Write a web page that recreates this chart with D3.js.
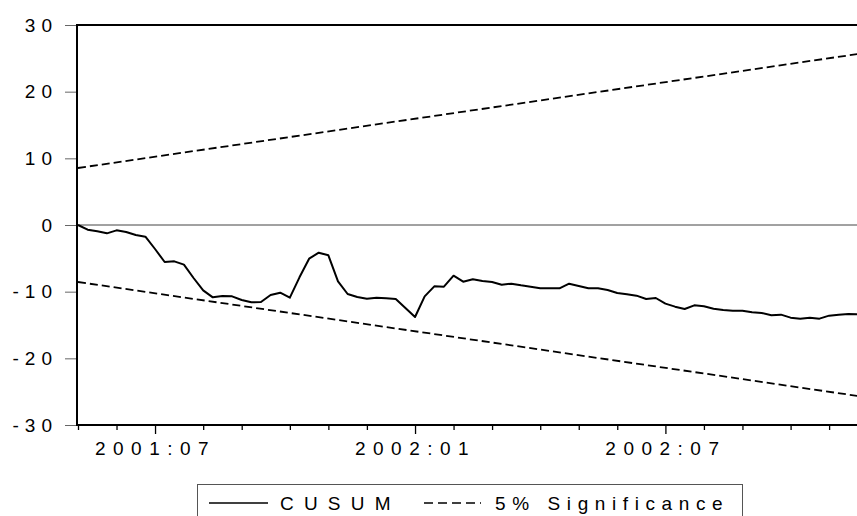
<!DOCTYPE html>
<html>
<head>
<meta charset="utf-8">
<script src="https://cdn.jsdelivr.net/npm/d3@7"></script>
<style>
	body { margin: 0; background: #fff; }
	svg { display: block; }
	text { font-family: "Liberation Sans", Arial, sans-serif; fill: #000; }
</style>
</head>
<body>
<svg id="chart" width="857" height="516"></svg>
<script>
	// CUSUM values, one per week
	var cusum = [
		0, -0.7, -0.95, -1.25, -0.8, -1.05, -1.5, -1.75, -3.6, -5.55,
		-5.45, -5.95, -7.95, -9.8, -10.85, -10.65, -10.7, -11.25, -11.6, -11.55,
		-10.5, -10.15, -10.9, -7.85, -5.05, -4.15, -4.55, -8.45, -10.35, -10.8,
		-11.05, -10.9, -11.0, -11.1, -12.45, -13.8, -10.7, -9.2, -9.25, -7.6,
		-8.5, -8.15, -8.4, -8.55, -8.95, -8.8, -9.05, -9.25, -9.5, -9.5,
		-9.5, -8.8, -9.15, -9.5, -9.5, -9.75, -10.2, -10.4, -10.6, -11.1,
		-10.95, -11.8, -12.25, -12.6, -12.05, -12.2, -12.55, -12.75, -12.85, -12.85,
		-13.1, -13.2, -13.55, -13.45, -13.9, -14.05, -13.9, -14.05, -13.6, -13.45,
		-13.35, -13.4
	];

	// 5% significance bounds, at the first and last observation
	var sigIndex = [0, 81];
	var sigUpper = [8.55, 25.65];
	var sigLower = [-8.55, -25.65];

	// month ticks: week index where each month starts
	var tickIndex  = [0, 4, 8, 13, 17, 22, 26, 30, 35, 39, 43, 48, 52, 56, 61, 65, 69, 74, 78];
	var tickMonths = ["2001:05", "2001:06", "2001:07", "2001:08", "2001:09", "2001:10", "2001:11", "2001:12",
	                  "2002:01", "2002:02", "2002:03", "2002:04", "2002:05", "2002:06", "2002:07", "2002:08",
	                  "2002:09", "2002:10", "2002:11"];

	var yTicks = [30, 20, 10, 0, -10, -20, -30];

	var legendLabels = ["CUSUM", "5% Significance"];

	var plotL = 77, plotT = 25, plotR = 858, plotB = 425;

	var svg = d3.select("#chart");

	var x = d3.scaleLinear().domain([0, cusum.length - 1]).range([plotL + 1, plotR]);
	var y = d3.scaleLinear().domain([-30, 30]).range([plotB, plotT]);

	//Zero line
	svg.append("line")
		.attr("x1", plotL).attr("x2", plotR)
		.attr("y1", y(0)).attr("y2", y(0))
		.attr("stroke", "#444").attr("stroke-width", 1);

	//Y axis ticks and labels
	var yAxis = d3.axisLeft(y)
		.tickValues(yTicks)
		.tickSize(11)
		.tickPadding(7)
		.tickFormat(d3.format("d"));

	var gy = svg.append("g")
		.attr("transform", "translate(" + (plotL - 1) + ",0)")
		.call(yAxis);
	gy.select(".domain").remove();
	gy.selectAll(".tick line").attr("stroke", "#666").attr("stroke-width", 1);
	gy.selectAll(".tick text")
		.attr("font-size", 19)
		.attr("letter-spacing", "6px")
		.attr("dy", "0.33em")
		.style("font-family", "'Liberation Sans', Arial, sans-serif")
		.text(function(d){ return String(d); }); // plain hyphen minus, as in the original

	function isLabelled(i){
		var m = tickMonths[i].split(":")[1];
		return m == "01" || m == "07";
	}

	//X axis ticks: labelled months are longer
	var xAxis = d3.axisBottom(x)
		.tickValues(tickIndex)
		.tickSize(0)
		.tickFormat("");

	var gx = svg.append("g")
		.attr("transform", "translate(0," + plotB + ")")
		.call(xAxis);
	gx.select(".domain").remove();
	gx.selectAll(".tick").append("line")
		.attr("y1", 0)
		.attr("y2", function(d, i){ return isLabelled(i) ? 9 : 5; })
		.attr("stroke", "#000")
		.attr("stroke-width", 1.3);
	gx.selectAll(".tick").filter(function(d, i){ return isLabelled(i); })
		.append("text")
		.attr("y", 30)
		.attr("text-anchor", "middle")
		.attr("font-size", 19)
		.attr("letter-spacing", "7.5px")
		.style("font-family", "'Liberation Sans', Arial, sans-serif")
		.text(function(d){ return tickMonths[tickIndex.indexOf(d)]; });

	//Plot frame: top, left and bottom
	svg.append("path")
		.attr("d", "M" + plotR + "," + plotT + "H" + plotL + "V" + plotB + "H" + plotR)
		.attr("fill", "none")
		.attr("stroke", "#000")
		.attr("stroke-width", 2);

	//Significance bounds
	var sigLine = d3.line()
		.x(function(d){ return x(d[0]); })
		.y(function(d){ return y(d[1]); });

	[sigUpper, sigLower].forEach(function(s){
		svg.append("path")
			.datum(d3.zip(sigIndex, s))
			.attr("d", sigLine)
			.attr("fill", "none")
			.attr("stroke", "#000")
			.attr("stroke-width", 1.8)
			.attr("stroke-dasharray", "8,4");
	});

	//CUSUM line
	var line = d3.line()
		.x(function(d, i){ return x(i); })
		.y(function(d){ return y(d); });

	svg.append("path")
		.datum(cusum)
		.attr("d", line)
		.attr("fill", "none")
		.attr("stroke", "#000")
		.attr("stroke-width", 2)
		.attr("stroke-linejoin", "round");

	//Legend box at the bottom
	var legend = svg.append("g");
	legend.append("rect")
		.attr("x", 197.5).attr("y", 484.5)
		.attr("width", 545).attr("height", 50)
		.attr("fill", "none")
		.attr("stroke", "#555")
		.attr("stroke-width", 1);

	legend.append("line")
		.attr("x1", 209).attr("x2", 268)
		.attr("y1", 503).attr("y2", 503)
		.attr("stroke", "#000").attr("stroke-width", 1.3);
	legend.append("text")
		.attr("x", 280).attr("y", 509.5)
		.attr("font-size", 19)
		.attr("letter-spacing", "10.2px")
		.text(legendLabels[0]);

	legend.append("line")
		.attr("x1", 424).attr("x2", 481)
		.attr("y1", 503).attr("y2", 503)
		.attr("stroke", "#000").attr("stroke-width", 1.3)
		.attr("stroke-dasharray", "9,5");
	legend.append("text")
		.attr("x", 495).attr("y", 509.5)
		.attr("font-size", 19)
		.attr("letter-spacing", "6.6px")
		.text(legendLabels[1]);
</script>
</body>
</html>
